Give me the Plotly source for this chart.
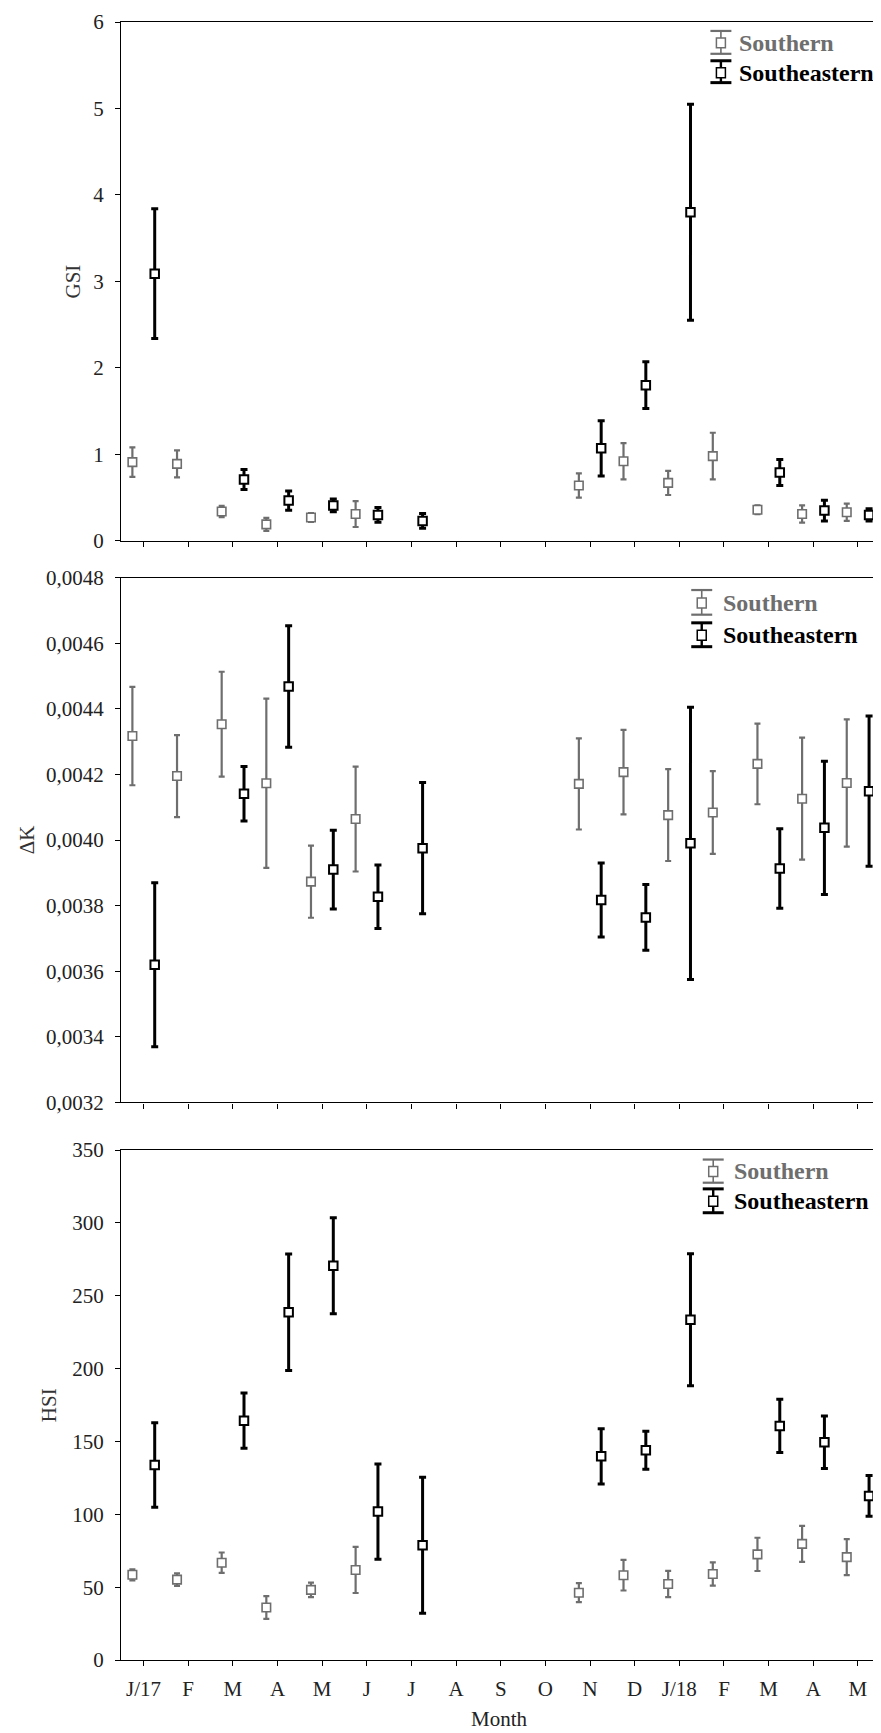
import plotly.graph_objects as go

# ---------------- data ----------------
months = ["J/17", "F", "M", "A", "M", "J", "J", "A", "S", "O", "N", "D",
          "J/18", "F", "M", "A", "M"]
southern_idx = [0, 1, 2, 3, 4, 5, 10, 11, 12, 13, 14, 15, 16]
southeastern_idx = [0, 2, 3, 4, 5, 6, 10, 11, 12, 14, 15, 16]

gsi_s = [0.91, 0.89, 0.34, 0.19, 0.27, 0.31, 0.64, 0.92, 0.67, 0.98, 0.36, 0.31, 0.33]
gsi_s_err = [0.17, 0.155, 0.065, 0.075, 0.05, 0.15, 0.14, 0.21, 0.14, 0.27, 0.05, 0.10, 0.10]
gsi_se = [3.09, 0.71, 0.465, 0.41, 0.30, 0.23, 1.07, 1.80, 3.80, 0.79, 0.35, 0.30]
gsi_se_err = [0.75, 0.115, 0.11, 0.075, 0.085, 0.085, 0.32, 0.27, 1.25, 0.15, 0.12, 0.07]

dk_s = [0.004317, 0.004195, 0.004353, 0.004173, 0.003873, 0.004064, 0.004171,
        0.004207, 0.004076, 0.004084, 0.004232, 0.004126, 0.004174]
dk_s_err = [0.00015, 0.000125, 0.00016, 0.000258, 0.00011, 0.00016, 0.000139,
            0.000129, 0.00014, 0.000126, 0.000123, 0.000186, 0.000194]
dk_se = [0.00362, 0.004141, 0.004468, 0.00391, 0.003827, 0.003975, 0.003817,
         0.003764, 0.00399, 0.003913, 0.004037, 0.004149]
dk_se_err = [0.00025, 0.000083, 0.000185, 0.00012, 0.000097, 0.0002, 0.000113,
             0.0001, 0.000415, 0.000121, 0.000203, 0.000229]

hsi_s = [58.5, 55.2, 66.8, 36, 48.1, 61.8, 46.2, 58.2, 52.2, 59, 72.5, 79.7, 70.6]
hsi_s_err = [3.8, 4.3, 7, 7.8, 5, 15.8, 6.5, 10.5, 9, 8, 11.4, 12.4, 12.4]
hsi_se = [133.8, 164.3, 238.7, 270.6, 101.9, 78.8, 139.8, 144, 233.5, 160.7, 149.5, 112.6]
hsi_se_err = [29, 19, 40, 33, 32.7, 46.7, 19, 13, 45.3, 18.3, 18, 14]

series_names = ["Southern", "Southeastern"]
y_titles = ["GSI", "ΔK", "HSI"]
x_title = "Month"

# ---------------- layout geometry ----------------
# The page body has an 8px default margin, so the figure is drawn 8px right/down.
BODY = 8
WIN_W, WIN_H = 881, 1733
W, H = WIN_W - BODY, WIN_H - BODY
# target positions below are given in window pixels
AX_LEFT, AX_RIGHT, AX_TOP, AX_BOTTOM = 121, 879, 12, 1660
ML = AX_LEFT - BODY
MR = W - (AX_RIGHT - BODY)
MT = AX_TOP - BODY
MB = H - (AX_BOTTOM - BODY)
PW, PH = W - ML - MR, H - MT - MB


def py(y):
    return (AX_BOTTOM - y) / PH


def px(x):
    return (x - AX_LEFT) / PW


GRAY = "#6e6e6e"
BLACK = "#000000"
FONT = "Liberation Serif"
OFF = 0.25

panels = [
    dict(s=gsi_s, se=gsi_s_err, e=gsi_se, ee=gsi_se_err, top=12, bot=534,
         rng=[0, 6], dtick=1, fmt="", ytitle_x=73),
    dict(s=dk_s, se=dk_s_err, e=dk_se, ee=dk_se_err, top=571, bot=1099,
         rng=[0.0032, 0.0048], dtick=0.0002, fmt=".4f", ytitle_x=27),
    dict(s=hsi_s, se=hsi_s_err, e=hsi_se, ee=hsi_se_err, top=1147, bot=1660,
         rng=[0, 350], dtick=50, fmt="", ytitle_x=49),
]

fig = go.Figure()

for k, p in enumerate(panels, start=1):
    xa = "x" if k == 1 else f"x{k}"
    ya = "y" if k == 1 else f"y{k}"
    fig.add_trace(go.Scatter(
        x=[i - OFF for i in southern_idx], y=p["s"], xaxis=xa, yaxis=ya,
        mode="markers", name=series_names[0], showlegend=False,
        marker=dict(symbol="square", size=8.5, color="white",
                    line=dict(color=GRAY, width=1.6)),
        error_y=dict(type="data", array=p["se"], visible=True, color=GRAY,
                     thickness=2.2, width=3),
    ))
    fig.add_trace(go.Scatter(
        x=[i + OFF for i in southeastern_idx], y=p["e"], xaxis=xa, yaxis=ya,
        mode="markers", name=series_names[1], showlegend=False,
        marker=dict(symbol="square", size=8.5, color="white",
                    line=dict(color=BLACK, width=2)),
        error_y=dict(type="data", array=p["ee"], visible=True, color=BLACK,
                     thickness=3, width=3.5),
    ))

    axis_common = dict(showline=True, linecolor="black", linewidth=1.3,
                       ticks="outside", ticklen=5, tickwidth=1.2,
                       tickcolor="black", showgrid=False, zeroline=False)
    fig.layout[("xaxis" if k == 1 else f"xaxis{k}")] = dict(
        **axis_common, domain=[0, 1], anchor=ya, range=[-0.505, 16.45],
        tickvals=list(range(len(months))), ticktext=months,
        showticklabels=(k == 3), mirror=True,
        tickfont=dict(family=FONT, size=21, color="#222"),
        ticklabelstandoff=5,
    )
    fig.layout[("yaxis" if k == 1 else f"yaxis{k}")] = dict(
        **axis_common, domain=[py(p["bot"]), py(p["top"])], anchor=xa,
        range=p["rng"], dtick=p["dtick"], tick0=p["rng"][0],
        tickformat=p["fmt"], mirror=(k != 1),
        tickfont=dict(family=FONT, size=21, color="#222"),
        ticklabelstandoff=7,
    )

    fig.add_annotation(text=y_titles[k - 1], xref="paper", yref="paper",
                       x=px(p["ytitle_x"]), y=py((p["top"] + p["bot"]) / 2),
                       textangle=-90, showarrow=False, xanchor="center",
                       yanchor="middle",
                       font=dict(family=FONT, size=21, color="#333"))

# legends (glyph + text inside each panel)
legend_pos = [
    dict(gx=721.7, tx=738, rows=[(21, 44, 33), (51, 73, 63)]),
    dict(gx=702.5, tx=721.7, rows=[(583.5, 608.3, 596.5), (616.5, 640.5, 629)]),
    dict(gx=714, tx=733.3, rows=[(1156.5, 1179.8, 1168.5), (1186, 1210, 1198.5)]),
]
for lp in legend_pos:
    for (t, b, c), name, col, lw in zip(lp["rows"], series_names,
                                        [GRAY, BLACK], [2.2, 3]):
        gx = lp["gx"]
        fig.add_shape(type="line", xref="paper", yref="paper",
                      x0=px(gx), x1=px(gx), y0=py(t), y1=py(b),
                      line=dict(color=col, width=lw - 0.6))
        for yy in (t, b):
            fig.add_shape(type="line", xref="paper", yref="paper",
                          x0=px(gx - 10.5), x1=px(gx + 10.5), y0=py(yy), y1=py(yy),
                          line=dict(color=col, width=lw))
        fig.add_shape(type="rect", xref="paper", yref="paper",
                      x0=px(gx - 4.5), x1=px(gx + 4.5),
                      y0=py(c + 5), y1=py(c - 5),
                      fillcolor="white", line=dict(color=col, width=1.5))
        fig.add_annotation(text=f"<b>{name}</b>", xref="paper", yref="paper",
                           x=px(lp["tx"]), y=py(c), xanchor="left",
                           yanchor="middle", showarrow=False,
                           font=dict(family=FONT, size=24, color=col))

fig.add_annotation(text=x_title, xref="paper", yref="paper",
                   x=px(500), y=py(1719), showarrow=False,
                   xanchor="center", yanchor="middle",
                   font=dict(family=FONT, size=21, color="#222"))

fig.update_layout(
    width=W, height=H, autosize=False,
    margin=dict(l=ML, r=MR, t=MT, b=MB, pad=0),
    paper_bgcolor="white", plot_bgcolor="white",
    separators=", ", showlegend=False,
    font=dict(family=FONT, size=21, color="#222"),
)

fig.write_html("out.html")
